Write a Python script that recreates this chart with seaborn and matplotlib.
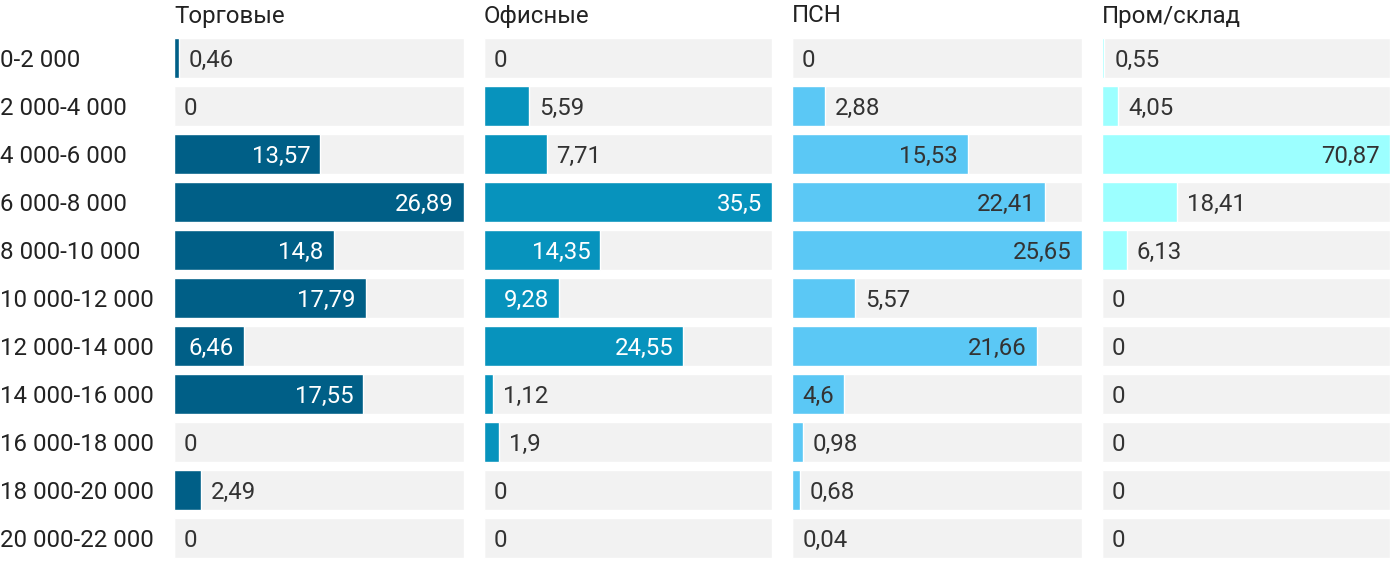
import matplotlib
matplotlib.use("Agg")
import matplotlib.pyplot as plt
import matplotlib.transforms as mtransforms
import seaborn as sns
import pandas as pd

categories = ["0-2 000", "2 000-4 000", "4 000-6 000", "6 000-8 000", "8 000-10 000",
              "10 000-12 000", "12 000-14 000", "14 000-16 000", "16 000-18 000",
              "18 000-20 000", "20 000-22 000"]
panel_titles = ["Торговые", "Офисные", "ПСН", "Пром/склад"]
torgovye = [0.46, 0, 13.57, 26.89, 14.8, 17.79, 6.46, 17.55, 0, 2.49, 0]
ofisnye = [0, 5.59, 7.71, 35.5, 14.35, 9.28, 24.55, 1.12, 1.9, 0, 0]
psn = [0, 2.88, 15.53, 22.41, 25.65, 5.57, 21.66, 4.6, 0.98, 0.68, 0.04]
prom_sklad = [0.55, 4.05, 70.87, 18.41, 6.13, 0, 0, 0, 0, 0, 0]

series = [torgovye, ofisnye, psn, prom_sklad]
colors = ["#005f87", "#0793bd", "#5bc8f5", "#9cffff"]
inside_text_colors = ["white", "white", "#333333", "#333333"]

sns.set_theme(style="white")
plt.rcParams["font.family"] = ["Roboto", "DejaVu Sans"]

W, H = 1400, 574
dpi = 100
fig = plt.figure(figsize=(W / dpi, H / dpi), dpi=dpi)
fig.patch.set_facecolor("white")

panels_px = [(174, 464), (484, 772), (792, 1082), (1102, 1390)]
top_px, bottom_px = 34, 562
FS = 17.3
TXT = "#333333"
pad_px = 10
dy_pt = -1.6  # small downward shift to center digits optically

def fmt(v):
    return f"{v:g}".replace(".", ",")

axes = []
for k, (x0, x1) in enumerate(panels_px):
    ax = fig.add_axes([x0 / W, 1 - bottom_px / H, (x1 - x0) / W, (bottom_px - top_px) / H])
    vals = series[k]
    vmax = max(vals)
    df = pd.DataFrame({"cat": categories, "val": vals, "bg": [vmax] * len(vals)})
    sns.barplot(data=df, y="cat", x="bg", color="#f2f2f2", saturation=1, width=0.83,
                errorbar=None, ax=ax, order=categories)
    sns.barplot(data=df, y="cat", x="val", color=colors[k], saturation=1, width=0.83,
                errorbar=None, ax=ax, order=categories)
    ax.set_xlim(0, vmax)
    ax.set_ylim(len(categories) - 0.5, -0.5)
    ax.set_xlabel("")
    ax.set_ylabel("")
    ax.set_xticks([])
    ax.set_yticks([])
    for s in ax.spines.values():
        s.set_visible(False)
    ax.set_facecolor("none")
    axes.append(ax)
    fig.text(x0 / W, 1 - 16 / H, panel_titles[k], ha="left", va="center",
             fontsize=FS, color="#222222")

# category labels
trans = mtransforms.blended_transform_factory(fig.transFigure, axes[0].transData)
trans = trans + mtransforms.ScaledTranslation(0, dy_pt / 72, fig.dpi_scale_trans)
for i, c in enumerate(categories):
    axes[0].text(0.0, i, c, transform=trans, ha="left", va="center",
                 fontsize=FS, color="#222222")

# value labels
fig.canvas.draw()
renderer = fig.canvas.get_renderer()
off_pt = pad_px * 72 / dpi
for k, ax in enumerate(axes):
    vals = series[k]
    for i, v in enumerate(vals):
        t = ax.annotate(fmt(v), xy=(v, i), xytext=(off_pt, dy_pt), textcoords="offset points",
                        ha="left", va="center", fontsize=FS, color=TXT)
        tw = t.get_window_extent(renderer).width
        bar_px = ax.transData.transform((v, i))[0] - ax.transData.transform((0, i))[0]
        if bar_px - tw >= 2 * pad_px - 0.3:
            t.set_ha("right")
            t.set_position((-off_pt, dy_pt))
            t.set_color(inside_text_colors[k])

fig.savefig("out.png", dpi=dpi, facecolor="white")
